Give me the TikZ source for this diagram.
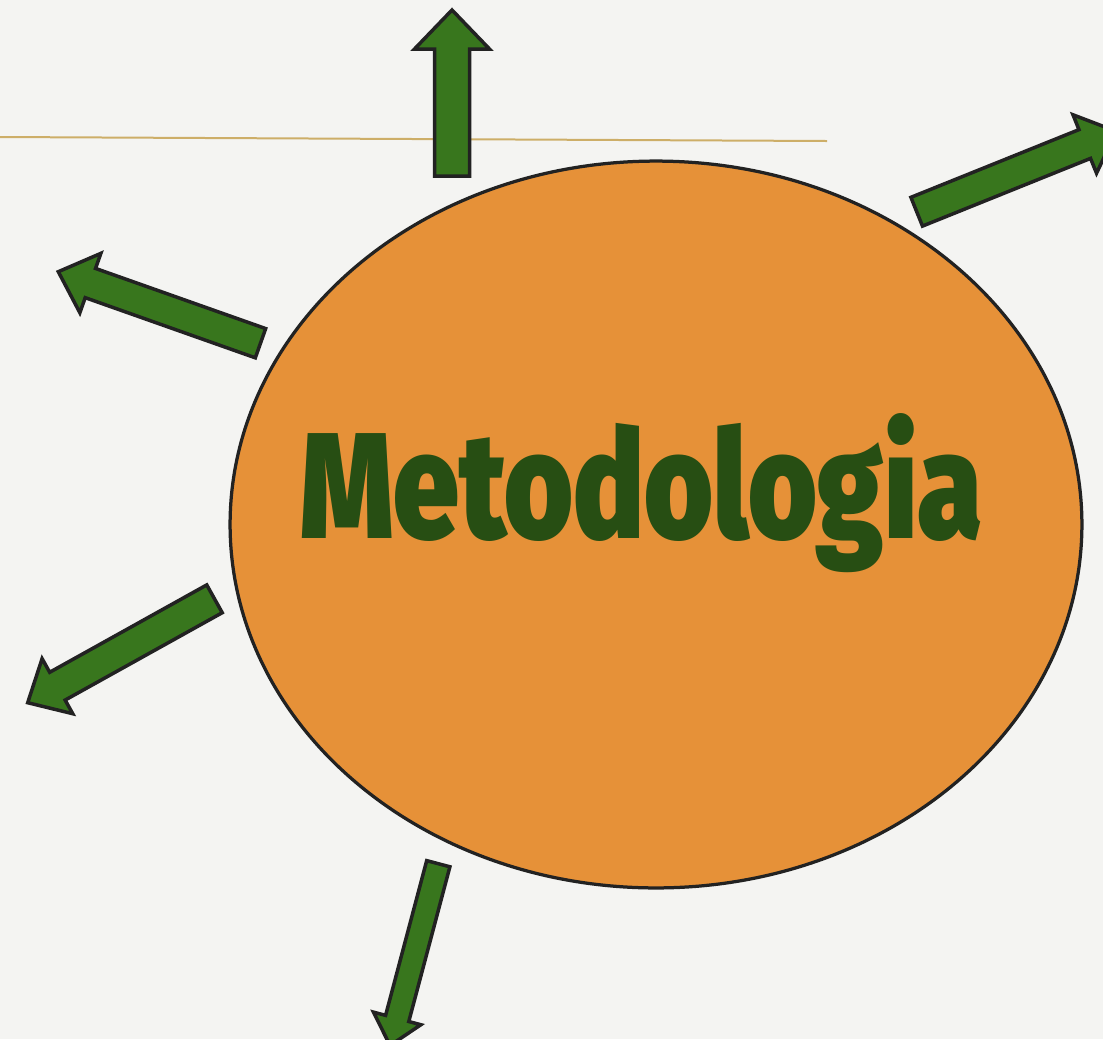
\documentclass[tikz,border=0pt]{standalone}
\usepackage{fontspec}
\usetikzlibrary{shapes.geometric}
\setmainfont{Fira Sans}
\newfontfamily\grueso{Fira Sans Black}

\definecolor{fondo}{HTML}{F4F4F2}
\definecolor{naranja}{HTML}{E69138}
\definecolor{verde}{HTML}{38761D}
\definecolor{verdeoscuro}{HTML}{274E13}
\definecolor{borde}{HTML}{222222}
\definecolor{dorado}{HTML}{CDAE68}

\tikzset{
  flecha/.style={fill=verde, draw=borde, line width=0.07cm, line join=miter},
  burbuja/.style={ellipse, fill=naranja, draw=borde, line width=0.065cm,
    minimum width=17.04cm, minimum height=14.54cm, inner sep=0pt}
}

% block arrow: base x, base y, tip x, tip y, shaft half width, head half width, head length
\newcommand{\flechabloque}[7]{%
  \pgfmathsetmacro{\largo}{veclen(#3-#1,#4-#2)}
  \pgfmathsetmacro{\angulo}{atan2(#2-#4,#3-#1)}
  \pgfmathsetmacro{\cuello}{\largo-#7}
  \begin{scope}[shift={(#1,#2)}, rotate=\angulo]
    \draw[flecha] (0,-#5) -- (\cuello,-#5) -- (\cuello,-#6) -- (\largo,0)
      -- (\cuello,#6) -- (\cuello,#5) -- (0,#5) -- cycle;
  \end{scope}}

\begin{document}
\begin{tikzpicture}[x=0.02cm, y=-0.02cm]
  % Background
  \fill[fondo] (0,0) rectangle (1103,1039);
  \useasboundingbox (0,0) rectangle (1103,1039);
  \clip (0,0) rectangle (1103,1039);

  % Thin rule
  \draw[dorado, line width=0.04cm] (0,137) -- (827,141);

  % Central ellipse
  \node[burbuja] (circulo) at (656,524.5) {};
  \node[anchor=base west, inner sep=0pt, text=verdeoscuro] (titulo) at (300,538)
    {\resizebox{13.64cm}{2.5cm}{\grueso Metodologia}};

  % Arrows pointing outwards
  \flechabloque{452}{176}{452}{10}{17.5}{37.5}{39}
  \flechabloque{916.7}{211.7}{1116.3}{131.3}{15.5}{31.5}{34}
  \flechabloque{260.5}{343.2}{58.3}{271.7}{15.5}{31.5}{34}
  \flechabloque{214.5}{598.8}{27.7}{702.7}{15.9}{31.5}{34}
  \flechabloque{438.3}{863.7}{390}{1045.5}{12}{24.5}{28}
\end{tikzpicture}
\end{document}
